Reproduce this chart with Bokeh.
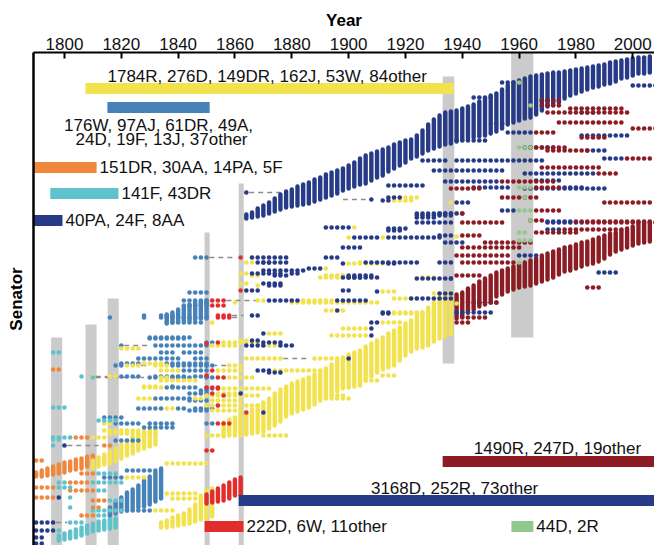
from bokeh.plotting import figure
from bokeh.models import Range1d, FixedTicker, Label
from bokeh.embed import file_html
from bokeh.resources import INLINE

# ---------------- data ----------------
year_ticks = [1800, 1820, 1840, 1860, 1880, 1900, 1920, 1940, 1960, 1980, 2000]

COL = {"D": "#273a87", "R": "#8b1c24", "Y": "#f2e24e", "B": "#4682b8",
       "O": "#ef883c", "C": "#5ec3cc", "r": "#e22d2d", "G": "#90c98b"}

# dense cohorts: congress years with top / bottom senator rank of the column
navy_band_years = list(range(1864, 2008, 2))
navy_band_top = [212,210,206,203,200,196,192,189,187,184,182,180,177,175,172,170,168,166,163,160,
                 156,153,151,149,147,145,142,140,138,137,133,128,122,117,113,110,109,108,106,104,
                 102,99,96,93,91,87,83,80,78,76,74,73,72,71,70,70,69,68,67,66,
                 65,64,63,62,60,59,58,57,56,55,55,54]
navy_band_bottom = [220,219,218,217,215,213,211,209,208,207,206,205,203,201,199,197,195,192,190,188,
                    186,185,182,179,177,173,170,167,164,160,158,155,152,150,148,146,145,143,141,140,
                    139,138,137,135,133,130,126,124,122,120,119,116,112,108,106,104,100,97,95,93,
                    91,89,88,86,85,83,80,79,77,75,75,74]

rep_band_years = list(range(1938, 2008, 2))
rep_band_top = [292,290,286,283,279,276,273,270,268,266,264,262,260,258,256,253,251,249,247,245,
                244,242,240,239,237,235,233,231,230,228,226,224,222,221,220]
rep_band_bottom = [320,318,314,311,308,306,302,298,296,293,291,289,288,287,285,283,281,279,276,273,
                   272,270,268,266,265,263,260,256,253,251,249,247,245,244,243]

yel_band_years = list(range(1856, 1938, 2))
yel_band_top = [420,417,415,412,410,407,403,400,396,391,387,384,381,379,377,375,372,369,366,362,
                358,355,352,350,348,344,341,338,335,331,328,325,321,318,314,310,305,300,295,292,290]
yel_band_bottom = [438,437,437,437,436,435,434,433,430,427,423,418,415,413,411,409,406,402,399,396,
                   393,390,389,388,387,382,378,374,371,369,367,362,357,353,350,349,347,343,340,338,336]

redd_band_years = [1850, 1852, 1854, 1856, 1858, 1860, 1862]
redd_band_top = [492, 489, 486, 483, 480, 477, 475]
redd_band_bottom = [505, 504, 503, 502, 500, 497, 497]

yel_low_years = [1834, 1836, 1838, 1840, 1842, 1844, 1846, 1848, 1850, 1852]
yel_low_top = [520, 518, 515, 513, 511, 507, 502, 493, 488, 486]
yel_low_bottom = [529, 529, 528, 527, 526, 525, 523, 521, 520, 518]

yel_early_years = [1810, 1812, 1814, 1816, 1818, 1820, 1822, 1824, 1826, 1828, 1830, 1832]
yel_early_top = [458, 455, 452, 449, 446, 442, 438, 434, 431, 429, 428, 427]
yel_early_bottom = [470, 468, 466, 465, 463, 460, 457, 455, 452, 450, 448, 446]

steel_low_years = [1816, 1818, 1820, 1822, 1824, 1826, 1828, 1830, 1832, 1834]
steel_low_top = [505, 500, 495, 490, 487, 483, 478, 474, 470, 466]
steel_low_bottom = [517, 515, 513, 512, 510, 509, 508, 506, 503, 500]

steel_up_years = [1836, 1838, 1840, 1842, 1844, 1846, 1848, 1850]
steel_up_top = [312, 310, 307, 304, 302, 300, 299, 298]
steel_up_bottom = [325, 324, 323, 322, 322, 321, 320, 320]

orange_band_years = [1790, 1792, 1794, 1796, 1798, 1800, 1802, 1804, 1806, 1808, 1810]
orange_band_top = [470, 468, 466, 464, 462, 460, 459, 457, 456, 454, 453]
orange_band_bottom = [478, 478, 477, 476, 475, 474, 472, 471, 470, 468, 466]

cyan_band_years = [1798, 1800, 1802, 1804, 1806, 1808, 1810, 1812, 1814, 1816, 1818]
cyan_band_top = [533, 531, 529, 527, 525, 523, 521, 519, 518, 517, 516]
cyan_band_bottom = [542, 541, 540, 539, 537, 535, 533, 532, 531, 530, 529]

# individual senators: (rank, first congress year, last congress year)
navy_rows = [
    (192,1864,1864),(199,1908,1908),(185,1914,1926),(160,1926,1934),(197,1914,1918),
    (227,1892,1900),(237,1902,1910),(237,1914,1932),(247,1898,1904),(230,1914,1918),
    (217,1924,1930),(222,1924,1936),(257,1866,1878),(262,1870,1878),(270,1870,1884),
    (275,1874,1878),(257,1892,1896),(262,1906,1924),(277,1898,1910),(228,1914,1920),
    (215,1924,1936),(273,1866,1876),(268,1886,1890),(278,1924,1936),(285,1872,1876),
    (290,1864,1868),(291,1910,1910),(298,1922,1936),(300,1872,1882),(300,1896,1906),
    (283,1870,1876),(275,1900,1908),(310,1896,1896),(313,1912,1914),(315,1866,1868),
    (322,1908,1910),(328,1908,1908),(333,1870,1870),(335,1908,1908),(342,1870,1876),
    (345,1876,1880),(358,1900,1900),(370,1868,1872),(412,1870,1870),(262,1868,1872),
    (273,1880,1882),(340,1866,1868),(345,1864,1870),(372,1872,1876),(393,1862,1862),
    (263,1898,1898),(263,1914,1916),(277,1900,1904),(290,1898,1900),(312,1912,1914),
    (82,1954,1958),(85,2000,2008),(97,1944,1950),(140,1938,1948),(132,1956,1964),
    (135,1982,1998),(147,1962,1972),(158,1990,1996),(160,1938,1968),(170,1930,1954),
    (173,1962,1986),(180,1966,1974),(188,1962,1990),(200,1912,1914),(210,1954,1958),
    (213,1924,1940),(222,1970,1982),(181,1934,1952),(187,1944,1956),(187,1976,1982),
    (202,1938,1942),(213,1932,1936),(221,1970,1978),(229,1970,1974),(235,1932,1936),
    (262,1932,1936),(272,1988,1994),(278,1936,1936),(293,1932,1936),(302,1946,1952),
    (312,1938,1950),(100,1968,1970),(112,1982,1986),(150,1984,1990),(242,1934,1940),
    (255,1960,1966),
    (445,1800,1800),(497,1798,1798),(522,1790,1796),(530,1790,1796),(537,1790,1792),
    (543,1790,1792),
]
rep_rows = [
    (100,1968,1974),(105,1968,1974),(108,1978,1996),(112,1970,1998),(122,1974,1996),
    (128,2000,2008),(137,1982,1990),(147,1964,1976),(150,1970,1984),(158,1998,2006),
    (167,1968,1988),(173,1988,1994),(188,1936,1946),(197,1954,1966),(202,1990,2006),
    (210,1966,1974),(220,1964,1968),(222,1984,2008),(222,1940,1954),(187,1966,1974),
    (181,1954,1972),(221,1980,2006),(229,1976,1996),(232,1966,1980),(235,1940,1946),
    (242,1948,1964),(247,1940,1960),(255,1938,1956),(262,1940,1958),(275,1938,1946),
    (287,1984,1988),(302,1942,1952),(317,1940,1948),(322,1938,1942),(213,1940,1940),
    (132,1966,1972),
]
green_rows = [
    (82,1960,1960),(147,1960,1964),(187,1960,1964),(210,1960,1964),(220,1964,1964),
    (232,1960,1962),(240,1960,1964),(262,1960,1960),(105,1964,1964),(197,1962,1962),
]
yellow_rows = [
    (197,1920,1924),(227,1902,1902),(237,1900,1900),(237,1912,1912),(262,1904,1904),
    (277,1890,1896),(273,1862,1864),(275,1866,1868),(285,1868,1868),(291,1912,1916),
    (300,1868,1870),(300,1884,1894),(268,1892,1892),(275,1892,1898),(277,1926,1930),
    (293,1930,1934),(298,1916,1924),(302,1860,1860),(302,1880,1892),(302,1894,1910),
    (303,1930,1938),(310,1892,1898),(313,1916,1928),(322,1912,1918),(328,1898,1906),
    (333,1872,1876),(335,1894,1906),(342,1856,1868),(345,1870,1874),(358,1864,1876),
    (358,1888,1898),(365,1858,1862),(370,1874,1890),(377,1858,1866),(388,1856,1872),
    (395,1850,1868),(398,1892,1900),(405,1850,1868),(423,1862,1862),(435,1850,1856),
    (435,1870,1878),(262,1864,1866),(283,1862,1864),(340,1862,1864),(345,1852,1860),
    (363,1828,1834),(370,1854,1862),(377,1834,1836),(387,1828,1834),
    (393,1854,1860),(400,1852,1862),(410,1852,1862),(322,1852,1852),(348,1820,1826),
    (365,1822,1826),(365,1832,1836),(370,1834,1840),(376,1810,1810),(376,1816,1818),
    (380,1834,1846),(386,1828,1832),(398,1826,1830),(398,1846,1848),(408,1836,1838),
    (423,1814,1816),(430,1814,1826),(433,1816,1832),(437,1810,1814),(463,1836,1850),
    (477,1822,1828),(493,1836,1846),(498,1838,1848),(510,1832,1838),(395,1892,1898),
    (375,1912,1916),(380,1904,1910),(312,1916,1926),(263,1900,1912),(212,1938,1938),
    (200,1916,1922),(236,1938,1938),(202,1936,1936),
]
steel_rows = [
    (257,1846,1850),(300,1842,1850),(317,1834,1850),(337,1830,1844),(345,1820,1820),
    (345,1832,1850),(363,1820,1826),(363,1836,1850),(377,1830,1844),(387,1836,1846),
    (393,1844,1850),(400,1844,1850),(410,1844,1850),(305,1842,1850),(315,1828,1828),
    (315,1834,1838),(322,1836,1848),(338,1830,1842),(352,1834,1838),(352,1842,1848),
    (358,1826,1840),(358,1846,1850),(365,1818,1820),(365,1838,1842),(365,1844,1850),
    (370,1842,1850),(376,1820,1826),(376,1832,1842),(376,1846,1850),(386,1838,1838),
    (390,1848,1850),(398,1832,1844),(408,1826,1834),(408,1840,1842),(408,1846,1852),
    (417,1814,1820),(423,1818,1826),(423,1830,1838),(427,1828,1838),(440,1818,1826),
    (470,1822,1832),(477,1814,1820),(510,1822,1830),(302,1848,1850),(342,1850,1852),
    (365,1850,1852),(377,1850,1852),(388,1850,1852),(423,1850,1852),(292,1844,1850),
    (317,1816,1816),(317,1828,1828),
]
orange_rows = [
    (437,1804,1808),(445,1814,1816),(473,1806,1810),(482,1802,1808),(487,1790,1796),
    (490,1802,1810),(497,1790,1796),(500,1810,1814),(507,1810,1812),(515,1806,1810),
    (460,1790,1792),(369,1796,1798),
]
cyan_rows = [
    (377,1810,1810),(376,1806,1806),(420,1812,1818),(437,1796,1802),(445,1796,1796),
    (473,1812,1818),(482,1798,1800),(482,1810,1820),(487,1798,1802),(490,1812,1814),
    (497,1802,1802),(500,1816,1820),(507,1802,1802),(510,1810,1820),(515,1812,1814),
    (522,1802,1806),(530,1798,1798),(352,1796,1798),(407,1796,1800),(439,1796,1798),
]
redd_rows = [
    (257,1862,1862),(290,1862,1862),(300,1852,1856),(317,1854,1858),
    (305,1852,1856),(315,1854,1858),(342,1854,1854),(370,1852,1852),(377,1854,1856),
    (387,1850,1854),(388,1854,1854),(393,1852,1852),(395,1856,1856),(405,1854,1854),
    (412,1864,1864),(423,1854,1858),(450,1850,1852),(343,1850,1850),(375,1850,1850),
]
# gaps in service: (rank, from year, to year)
gap_rows = [
    (192,1865,1876),(199,1898,1906),(257,1851,1860),(300,1857,1869),(317,1859,1862),
    (345,1821,1830),(358,1877,1886),(377,1811,1828),(315,1859,1863),(365,1852,1857),
    (365,1827,1830),(376,1811,1815),(445,1801,1812),(522,1797,1801),(123,1951,1955),
]

# party-system transition periods (years) and rank extent
trans_start = [1795.3, 1807.4, 1815.2, 1849.3, 1861.3, 1933.1, 1957.2]
trans_end = [1799.2, 1811.3, 1819.1, 1851.1, 1863.1, 1937.2, 1965.0]
trans_top = [337, 324, 298, 232, 183, 76, 52]
trans_bottom = [545, 545, 545, 545, 545, 363, 337]

# clusters: span in years, rank, colour key, composition text
clu_start = [1807.4, 1815.1, 1789.1, 1795.0, 1789.1, 1933.1, 1861.3, 1849.3, 1957.3]
clu_end = [1937.0, 1851.1, 1811.3, 1819.0, 1799.3, 2010.0, 2010.0, 1863.0, 1965.0]
clu_rank = [88, 107, 167, 193, 220, 461, 500, 526, 526]
clu_party = ["Y", "B", "O", "C", "D", "R", "D", "r", "G"]
clu_text = ["1784R, 276D, 149DR, 162J, 53W, 84other",
            "176W, 97AJ, 61DR, 49A,\n24D, 19F, 13J, 37other",
            "151DR, 30AA, 14PA, 5F",
            "141F, 43DR",
            "40PA, 24F, 8AA",
            "1490R, 247D, 19other",
            "3168D, 252R, 73other",
            "222D, 6W, 11other",
            "44D, 2R"]

# ---------------- figure ----------------
FONT = "Liberation Sans"
p = figure(width=654, height=545, x_range=Range1d(1789.1, 2007.65), y_range=Range1d(545, 52),
           x_axis_location="above", output_backend="svg", toolbar_location=None,
           min_border_left=33, min_border_top=52, min_border_right=0, min_border_bottom=0)
p.outline_line_color = None
p.xgrid.visible = False
p.ygrid.visible = False

xa = p.xaxis[0]
xa.ticker = FixedTicker(ticks=year_ticks)
xa.axis_label = "Year"
xa.axis_label_text_font = FONT
xa.axis_label_text_font_style = "bold"
xa.axis_label_text_font_size = "17px"
xa.axis_label_text_color = "#000000"
xa.axis_label_standoff = 5
xa.major_label_text_font = FONT
xa.major_label_text_font_size = "17px"
xa.major_label_text_color = "#111111"
xa.major_label_standoff = 3
xa.major_tick_in = 6
xa.major_tick_out = 0
xa.major_tick_line_width = 2
xa.major_tick_line_color = "#000000"
xa.minor_tick_line_color = None
xa.axis_line_width = 2
xa.axis_line_color = "#000000"

ya = p.yaxis[0]
ya.ticker = FixedTicker(ticks=[])
ya.axis_label = "Senator"
ya.axis_label_text_font = FONT
ya.axis_label_text_font_style = "bold"
ya.axis_label_text_font_size = "17px"
ya.axis_label_text_color = "#000000"
ya.axis_label_standoff = 8
ya.major_tick_line_color = None
ya.minor_tick_line_color = None
ya.axis_line_width = 2.5
ya.axis_line_color = "#000000"

# transition periods
p.quad(left=trans_start, right=trans_end, top=trans_top, bottom=trans_bottom,
       fill_color="#cbcbcb", line_color=None)

# gaps
p.segment(x0=[g[1] for g in gap_rows], x1=[g[2] for g in gap_rows],
          y0=[g[0] for g in gap_rows], y1=[g[0] for g in gap_rows],
          line_color="#8c8c8c", line_width=1.3, line_dash="5 4")

# dense cohorts
bands = [
    (orange_band_years, orange_band_top, orange_band_bottom, "O"),
    (cyan_band_years, cyan_band_top, cyan_band_bottom, "C"),
    (yel_early_years, yel_early_top, yel_early_bottom, "Y"),
    (steel_low_years, steel_low_top, steel_low_bottom, "B"),
    (steel_up_years, steel_up_top, steel_up_bottom, "B"),
    (yel_low_years, yel_low_top, yel_low_bottom, "Y"),
    (redd_band_years, redd_band_top, redd_band_bottom, "r"),
    (yel_band_years, yel_band_top, yel_band_bottom, "Y"),
    (navy_band_years, navy_band_top, navy_band_bottom, "D"),
    (rep_band_years, rep_band_top, rep_band_bottom, "R"),
]
for yrs, tops, bots, key in bands:
    p.segment(x0=yrs, x1=yrs, y0=[t + 2 for t in tops], y1=[b - 2 for b in bots],
              line_color=COL[key], line_width=4.4, line_cap="round")


def expand(rows):
    xs, ys = [], []
    for rank, s, e in rows:
        for yr in range(s, e + 1, 2):
            xs.append(yr)
            ys.append(rank)
    return xs, ys


for rows, key in [(steel_rows, "B"), (yellow_rows, "Y"), (navy_rows, "D"), (rep_rows, "R"),
                  (orange_rows, "O"), (cyan_rows, "C"), (redd_rows, "r"), (green_rows, "G")]:
    xs, ys = expand(rows)
    p.scatter(xs, ys, size=4.6, fill_color=COL[key], line_color=None)

# clusters
p.hbar(y=clu_rank, left=clu_start, right=clu_end, height=11,
       fill_color=[COL[k] for k in clu_party], line_color=None)

def lab(txt, x, y, align="left", xo=0):
    p.add_layout(Label(x=x, y=y, text=txt, x_offset=xo, text_font=FONT, text_font_size="17px",
                       text_align=align, text_baseline="middle", text_color="#111111"))

lab(clu_text[0], clu_start[0], clu_rank[0] - 12, xo=22)
l1, l2 = clu_text[1].split("\n")
mid = (clu_start[1] + clu_end[1]) / 2
lab(l1, mid, clu_rank[1] + 18, align="center")
lab(l2, mid, clu_rank[1] + 32, align="center", xo=3)
for i in (2, 3, 4, 7, 8):
    lab(clu_text[i], clu_end[i], clu_rank[i], xo=3)
lab(clu_text[5], 1973.5, clu_rank[5] - 13, align="center")
lab(clu_text[6], 1937.3, clu_rank[6] - 12, align="center")

open("out.html", "w").write(file_html(p, INLINE))
